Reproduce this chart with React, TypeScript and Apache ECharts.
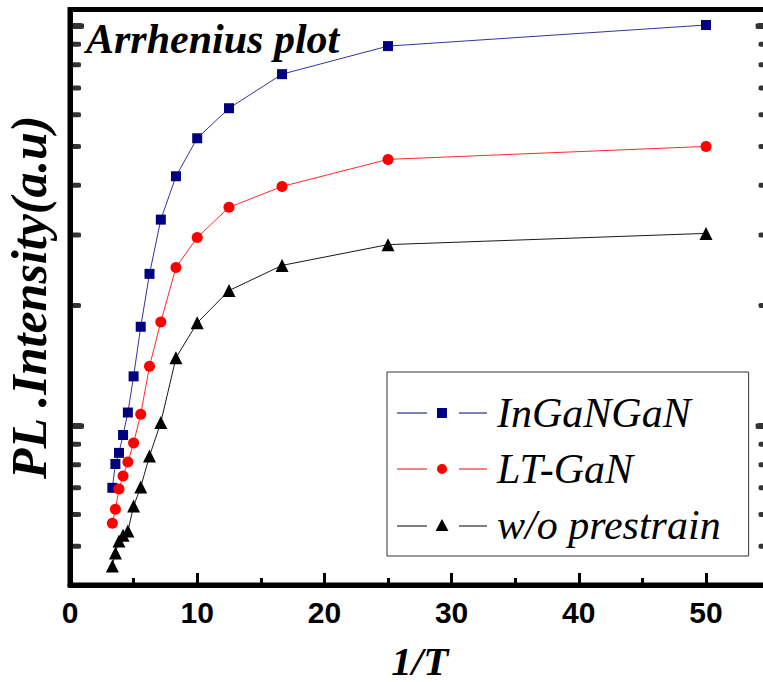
import React, { useEffect, useRef } from "react";
import * as echarts from "echarts";

// 1/T values (x axis)
const invT = [3.33, 3.57, 3.85, 4.17, 4.55, 5.0, 5.56, 6.25, 7.14, 8.33, 10, 12.5, 16.67, 25, 50];
// PL intensity (a.u.) per sample
const inganGanValues = [0.7, 0.803, 0.856, 0.949, 1.08, 1.33, 1.77, 2.4, 3.28, 4.21, 5.24, 6.23, 7.58, 8.91, 10.06];
const ltGanValues = [0.571, 0.619, 0.695, 0.749, 0.812, 0.906, 1.07, 1.41, 1.82, 2.49, 2.96, 3.52, 3.97, 4.64, 5.0];
const woPrestrainValues = [0.446, 0.481, 0.515, 0.533, 0.546, 0.63, 0.703, 0.841, 1.02, 1.48, 1.81, 2.18, 2.52, 2.84, 3.03];

const seriesNames = ["InGaNGaN", "LT-GaN", "w/o prestrain"];
const seriesColors = ["#000080", "#ff0000", "#000000"];
const lineColors = ["#3333a0", "#ff2a2a", "#1a1a1a"];

// log axis tick positions
const logMajorTicks = [1, 10];
const logMinorTicks = [0.5, 0.6, 0.7, 0.8, 0.9, 2, 3, 4, 5, 6, 7, 8, 9];

const X_MIN = 0;
const X_MAX = 55;

const SERIF = "'Liberation Serif', 'Times New Roman', serif";
const SANS = "'Liberation Sans', Arial, sans-serif";

const specks = "M0,0h0.01v0.01H0zM90,12h-0.01v-0.01H90z";
const iconSquare = "path://" + specks + "M0,5.5h30v1H0zM40,1h10v10H40zM62,5.5h28v1H62z";
const iconCircle = "path://" + specks + "M0,5.5h30v1H0zM40,6a5,5 0 1,0 10,0a5,5 0 1,0 -10,0zM62,5.5h28v1H62z";
const iconTriangle = "path://" + specks + "M0,6.5h30v1H0zM45,0L51.5,12H38.5zM62,6.5h28v1H62z";

export default function App() {
  const ref = useRef<HTMLDivElement>(null);
  useEffect(() => {
    if (!ref.current) return;
    const chart = echarts.init(ref.current, undefined, { renderer: "svg" });
    const mk = (vals: number[]) => invT.map((x, i) => [x, vals[i]]);
    const tickSeries = (vals: number[], x: number, size: number[], offX: number) => ({
      type: "scatter",
      data: vals.map((v) => [x, v]),
      symbol: "roundRect",
      symbolSize: size,
      symbolOffset: [offX, 0],
      itemStyle: { color: "#000" },
      silent: true,
      clip: false,
      z: 5,
      tooltip: { show: false },
    });
    chart.setOption({
      animation: false,
      backgroundColor: "#fff",
      title: {
        text: "Arrhenius plot",
        left: 86,
        top: 18,
        padding: 0,
        textStyle: { fontFamily: SERIF, fontStyle: "italic", fontWeight: "bold", fontSize: 42, color: "#000" },
      },
      grid: {
        left: 70,
        top: 9.5,
        bottom: 97,
        right: -6.6,
        containLabel: false,
        outerBoundsMode: "none",
        show: true,
        borderColor: "#000",
        borderWidth: 5,
        backgroundColor: "transparent",
      },
      legend: {
        orient: "vertical",
        left: 387,
        top: 372,
        padding: [13, 28, 3, 10],
        itemGap: 0,
        itemWidth: 90,
        itemHeight: 12,
        borderColor: "#333",
        borderWidth: 1,
        itemStyle: { borderWidth: 0 },
        textStyle: {
          fontFamily: SERIF,
          fontStyle: "italic",
          fontSize: 42,
          color: "#000",
          lineHeight: 56,
          padding: [0, 0, 0, 5],
        },
        data: [
          { name: seriesNames[0], icon: iconSquare },
          { name: seriesNames[1], icon: iconCircle },
          { name: seriesNames[2], icon: iconTriangle },
        ],
      },
      xAxis: [
        {
          type: "value",
          min: X_MIN,
          max: X_MAX,
          interval: 10,
          position: "bottom",
          axisLine: { show: true, onZero: false, lineStyle: { color: "#000", width: 5 } },
          axisTick: { show: true, inside: true, length: 12, lineStyle: { color: "#000", width: 3 } },
          axisLabel: {
            show: true,
            showMaxLabel: false,
            margin: 12,
            fontFamily: SANS,
            fontWeight: "bold",
            fontSize: 30,
            color: "#000",
          },
          splitLine: { show: false },
          name: "1/T",
          nameLocation: "middle",
          nameGap: 55,
          nameTextStyle: {
            fontFamily: SERIF,
            fontStyle: "italic",
            fontWeight: "bold",
            fontSize: 41,
            lineHeight: 41,
            color: "#000",
          },
        },
        {
          type: "value",
          min: X_MIN,
          max: X_MAX,
          interval: 5,
          position: "bottom",
          axisLine: { show: false, onZero: false },
          axisTick: { show: true, inside: true, length: 7, lineStyle: { color: "#000", width: 3 } },
          axisLabel: { show: false },
          splitLine: { show: false },
        },
      ],
      yAxis: {
        type: "log",
        logBase: 10,
        min: 0.4,
        max: 11,
        axisLine: { show: true, onZero: false, lineStyle: { color: "#000", width: 5 } },
        axisTick: { show: false },
        axisLabel: { show: false },
        splitLine: { show: false },
        name: "PL .Intensity(a.u)",
        nameLocation: "middle",
        nameGap: 16,
        nameTextStyle: { fontFamily: SERIF, fontStyle: "italic", fontWeight: "bold", fontSize: 50, color: "#000" },
      },
      series: [
        {
          name: seriesNames[0],
          type: "line",
          data: mk(inganGanValues),
          symbol: "rect",
          symbolSize: 10,
          showAllSymbol: true,
          itemStyle: { color: seriesColors[0] },
          lineStyle: { color: lineColors[0], width: 1 },
          z: 3,
        },
        {
          name: seriesNames[1],
          type: "line",
          data: mk(ltGanValues),
          symbol: "circle",
          symbolSize: 11,
          showAllSymbol: true,
          itemStyle: { color: seriesColors[1] },
          lineStyle: { color: lineColors[1], width: 1 },
          z: 3,
        },
        {
          name: seriesNames[2],
          type: "line",
          data: mk(woPrestrainValues),
          symbol: "triangle",
          symbolSize: 13,
          showAllSymbol: true,
          itemStyle: { color: seriesColors[2] },
          lineStyle: { color: lineColors[2], width: 1 },
          z: 3,
        },
        tickSeries(logMinorTicks, X_MIN, [11, 5], 5.5),
        tickSeries(logMajorTicks, X_MIN, [14, 6], 7),
        tickSeries(logMinorTicks, X_MAX, [11, 5], -5.5),
        tickSeries(logMajorTicks, X_MAX, [14, 6], -7),
      ],
    });
    return () => chart.dispose();
  }, []);
  return (
    <div
      ref={ref}
      style={{ position: "absolute", left: 0, top: 0, width: 763, height: 682, background: "#fff" }}
    />
  );
}
